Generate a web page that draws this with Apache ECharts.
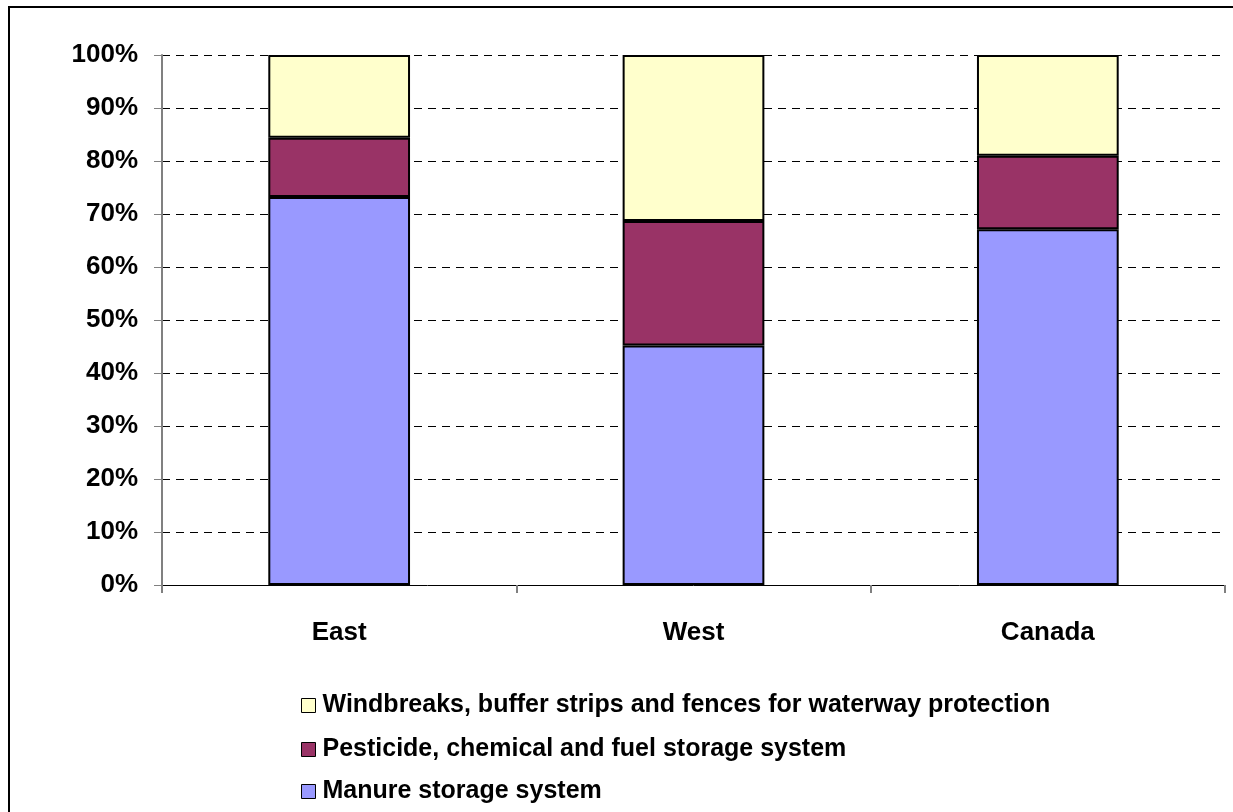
<!DOCTYPE html>
<html>
<head>
<meta charset="utf-8">
<script src="https://cdn.jsdelivr.net/npm/echarts@6/dist/echarts.min.js"></script>
<style>
  html, body { margin: 0; padding: 0; background: #fff; }
  #chart { width: 1233px; height: 812px; }
</style>
</head>
<body>
<div id="chart"></div>
<script>
// Regions shown on the category axis
const regions = ['East', 'West', 'Canada'];

// Share of each storage / protection type, in percent
const manure = [73.2, 45.2, 67.1];
const pesticide = [11.2, 23.5, 13.9];
const windbreaks = [15.6, 31.3, 19.0];

const seriesNames = [
  'Manure storage system',
  'Pesticide, chemical and fuel storage system',
  'Windbreaks, buffer strips and fences for waterway protection'
];

const FONT = '"Liberation Sans", Arial, sans-serif';

const chart = echarts.init(document.getElementById('chart'), null, { renderer: 'canvas' });

function barSeries(name, data, color) {
  return {
    name: name,
    type: 'bar',
    stack: 'total',
    data: data,
    barWidth: '40%',
    itemStyle: { color: color, borderColor: '#000', borderWidth: 2 },
    emphasis: { disabled: true }
  };
}

// One legend row per series, stacked top to bottom (reverse of the stack order)
function legendRow(name, top) {
  return {
    orient: 'horizontal',
    left: 301,
    top: top,
    padding: 0,
    itemWidth: 14,
    itemHeight: 14,
    icon: 'rect',
    data: [name],
    itemStyle: { borderColor: '#000', borderWidth: 1 },
    textStyle: { color: '#000', fontFamily: FONT, fontWeight: 'bold', fontSize: 25, padding: [0, 0, 0, 2] },
    selectedMode: false
  };
}

chart.setOption({
  animation: false,
  backgroundColor: '#fff',
  graphic: [{
    type: 'rect',
    shape: { x: 9, y: 7, width: 1240, height: 820 },
    style: { fill: 'none', stroke: '#000', lineWidth: 2 },
    silent: true
  }],
  grid: { left: 162, right: 8, top: 55, bottom: 227 },
  xAxis: {
    type: 'category',
    data: regions,
    axisLine: { lineStyle: { color: '#000', width: 1 } },
    axisTick: { show: true, length: 8, lineStyle: { color: '#808080', width: 2 } },
    axisLabel: { margin: 35, color: '#000', fontFamily: FONT, fontWeight: 'bold', fontSize: 26 }
  },
  yAxis: {
    type: 'value',
    min: 0,
    max: 100,
    interval: 10,
    axisLine: { show: true, lineStyle: { color: '#808080', width: 2 } },
    axisTick: { show: true, length: 8, lineStyle: { color: '#808080', width: 1 } },
    axisLabel: {
      formatter: '{value}%', margin: 24, color: '#000',
      fontFamily: FONT, fontWeight: 'bold', fontSize: 26
    },
    splitLine: { show: true, lineStyle: { color: '#000', type: [8, 6], width: 1 } }
  },
  legend: [
    legendRow(seriesNames[2], 693),
    legendRow(seriesNames[1], 737),
    legendRow(seriesNames[0], 779)
  ],
  series: [
    barSeries(seriesNames[0], manure, '#9999FF'),
    barSeries(seriesNames[1], pesticide, '#993366'),
    barSeries(seriesNames[2], windbreaks, '#FFFFCC')
  ]
});
</script>
</body>
</html>
